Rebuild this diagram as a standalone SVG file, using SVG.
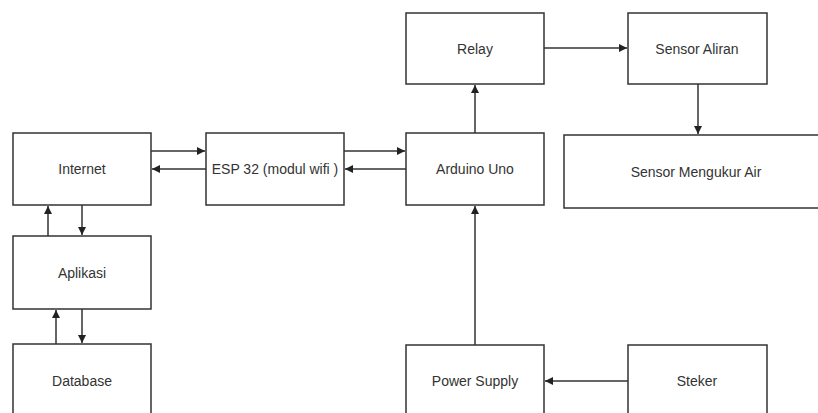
<svg xmlns="http://www.w3.org/2000/svg" width="818" height="413" viewBox="0 0 818 413">
<style>
.box{fill:#fff;stroke:#333;stroke-width:1.5}
.lbl{font-family:"Liberation Sans",Arial,sans-serif;font-size:14px;fill:#333;text-anchor:middle;dominant-baseline:central}
.edge{stroke:#333;stroke-width:1.5;fill:none;marker-end:url(#ah)}
</style>
<defs>
<marker id="ah" markerUnits="userSpaceOnUse" markerWidth="9" markerHeight="8" refX="8" refY="4" orient="auto">
<path d="M0,0 L8,4 L0,8 Z" fill="#222"/>
</marker>
</defs>
<rect width="818" height="413" fill="#fff"/>
<g id="edges">
<line class="edge" x1="151" y1="151" x2="205" y2="151"/>
<line class="edge" x1="206" y1="169" x2="152" y2="169"/>
<line class="edge" x1="344" y1="151" x2="405" y2="151"/>
<line class="edge" x1="406" y1="169" x2="345" y2="169"/>
<line class="edge" x1="475" y1="133" x2="475" y2="85"/>
<line class="edge" x1="544" y1="48" x2="627" y2="48"/>
<line class="edge" x1="698" y1="84" x2="698" y2="134"/>
<line class="edge" x1="475" y1="345" x2="475" y2="206"/>
<line class="edge" x1="628" y1="381" x2="545" y2="381"/>
<line class="edge" x1="48" y1="236" x2="48" y2="206"/>
<line class="edge" x1="82" y1="205" x2="82" y2="235"/>
<line class="edge" x1="56" y1="344" x2="56" y2="310"/>
<line class="edge" x1="82" y1="309" x2="82" y2="343"/>
</g>
<g id="internet"><rect class="box" x="13" y="133" width="138" height="72"/><text class="lbl" x="82" y="169">Internet</text></g>
<g id="esp32"><rect class="box" x="206" y="133" width="138" height="72"/><text class="lbl" x="275" y="169">ESP 32 (modul wifi )</text></g>
<g id="arduino"><rect class="box" x="406" y="133" width="138" height="72"/><text class="lbl" x="475" y="169">Arduino Uno</text></g>
<g id="relay"><rect class="box" x="406" y="13" width="138" height="71"/><text class="lbl" x="475" y="49">Relay</text></g>
<g id="sensor-aliran"><rect class="box" x="628" y="13" width="139" height="71"/><text class="lbl" x="697" y="49">Sensor Aliran</text></g>
<g id="sensor-mengukur-air"><rect class="box" x="564" y="135" width="266" height="73"/><text class="lbl" x="696" y="172">Sensor Mengukur Air</text></g>
<g id="aplikasi"><rect class="box" x="13" y="236" width="138" height="73"/><text class="lbl" x="82" y="273">Aplikasi</text></g>
<g id="database"><rect class="box" x="13" y="344" width="138" height="76"/><text class="lbl" x="82" y="381">Database</text></g>
<g id="power-supply"><rect class="box" x="406" y="345" width="138" height="76"/><text class="lbl" x="475" y="381">Power Supply</text></g>
<g id="steker"><rect class="box" x="628" y="345" width="139" height="76"/><text class="lbl" x="697" y="381">Steker</text></g>
</svg>
